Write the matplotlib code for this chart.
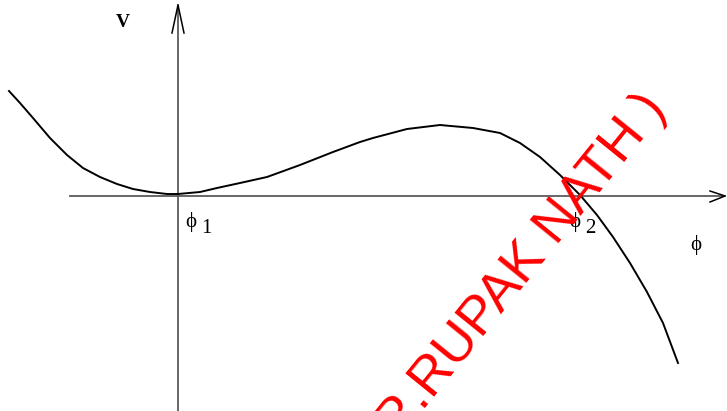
import matplotlib
matplotlib.use("Agg")
import matplotlib.pyplot as plt

# potential V(phi) (phi1 at origin, arbitrary units)
phi = [-1.69, -1.58, -1.45, -1.28, -1.11, -0.95, -0.78, -0.61, -0.45, -0.28,
       -0.11, 0.00, 0.22, 0.39, 0.62, 0.89, 1.22, 1.55, 1.82, 1.95,
       2.29, 2.62, 2.95, 3.22, 3.42, 3.62, 3.82, 4.02, 4.19, 4.35,
       4.52, 4.69, 4.85, 5.00]
V = [1.05, 0.93, 0.78, 0.58, 0.41, 0.28, 0.19, 0.12, 0.07, 0.04,
     0.02, 0.02, 0.04, 0.08, 0.13, 0.19, 0.31, 0.44, 0.54, 0.58,
     0.67, 0.71, 0.68, 0.63, 0.53, 0.39, 0.21, 0.01, -0.19, -0.41,
     -0.67, -0.96, -1.27, -1.67]

phi1 = 0.0
phi2 = 4.03
watermark = "( DR.RUPAK NATH )"

fig = plt.figure(figsize=(7.27, 4.11), dpi=100)
ax = fig.add_axes([0, 0, 1, 1])
ax.set_xlim(-1.78, 5.49)
ax.set_ylim(-2.15, 1.96)
ax.axis("off")

serif = ["Liberation Serif", "DejaVu Serif"]

# axes with open arrow heads
axcol = "#5a5a5a"
ax.plot([-1.08, 5.47], [0, 0], color=axcol, lw=1.3)
ax.plot([0, 0], [-2.15, 1.91], color=axcol, lw=1.3)
ax.plot([5.32, 5.47, 5.32], [0.05, 0, -0.06], color="black", lw=1.1)
ax.plot([-0.06, 0, 0.06], [1.63, 1.91, 1.63], color="black", lw=1.1)

ax.plot(phi, V, color="black", lw=1.4, solid_joinstyle="round")

ax.text(-0.55, 1.73, "V", fontsize=14, fontweight="bold", family=serif,
        ha="center", va="center")
ax.text(phi1 + 0.13, -0.26, "\u03d5", fontsize=15, family=serif, ha="center", va="center")
ax.text(phi1 + 0.28, -0.32, "1", fontsize=15, family=serif, ha="center", va="center")
ax.text(phi2 - 0.06, -0.26, "\u03d5", fontsize=15, family=serif, ha="center", va="center")
ax.text(phi2 + 0.09, -0.32, "2", fontsize=15, family=serif, ha="center", va="center")
ax.text(5.18, -0.49, "\u03d5", fontsize=15, family=serif, ha="center", va="center")

ax.text(4.90, 0.87, watermark, fontsize=39, color="red", family="Liberation Sans",
        rotation=51, rotation_mode="anchor", ha="right", va="baseline")

fig.savefig("out.png", dpi=100)
